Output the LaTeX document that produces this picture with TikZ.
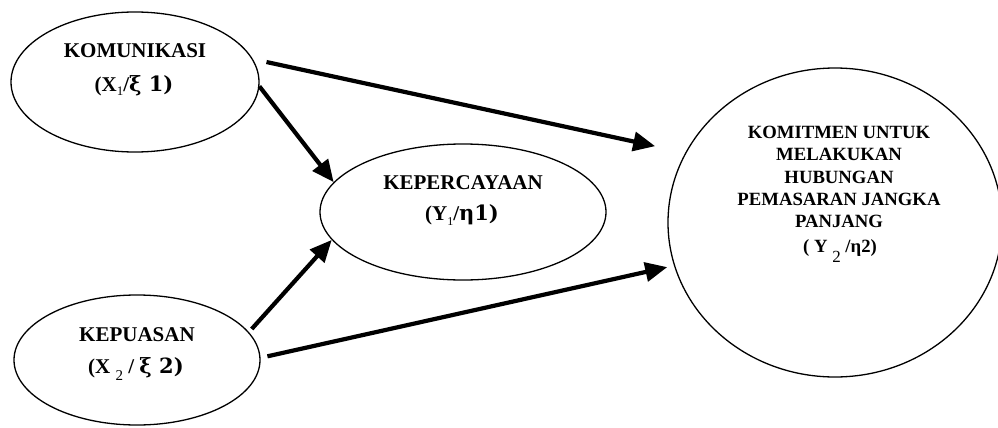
\documentclass[tikz,border=0pt]{standalone}
\usepackage{fontspec}
\setmainfont{Liberation Serif}
\newfontfamily\cam{DejaVu Serif}
\usetikzlibrary{shapes.geometric,arrows.meta}
\newcommand{\lowsub}[3]{\raisebox{-#1pt}{\mdseries\fontsize{#2}{#2}\selectfont #3}}
\begin{document}
\begin{tikzpicture}[x=1pt,y=-1pt,
  ell/.style={draw,ellipse,line width=1.3pt,inner sep=0pt},
  lbl/.style={anchor=base,inner sep=0pt,font=\bfseries\fontsize{21}{21}\selectfont},
  lblbig/.style={anchor=base,inner sep=0pt,font=\bfseries\fontsize{18.7}{18.7}\selectfont},
  arr/.style={line width=4.2pt,-{Triangle[length=22pt,width=19pt]}}]
\useasboundingbox (0,0) rectangle (998,428);
% ellipses
\node[ell,minimum width=248pt,minimum height=140pt] (A) at (135,82) {};
\node[ell,minimum width=246pt,minimum height=130pt] (B) at (137,360) {};
\node[ell,minimum width=286pt,minimum height=136pt] (C) at (463,212) {};
\node[ell,minimum width=334pt,minimum height=309pt] (D) at (835,222.5) {};
% texts
\node[lbl] (tA1) at (135,57) {KOMUNIKASI};
\node[lbl] (tA2) at (134,91) {(X\lowsub{4}{13}{1}/{\cam ξ 1)}};
\node[lbl] (tB1) at (137,341) {KEPUASAN};
\node[lbl] (tB2) at (136,373) {(X \lowsub{7}{15}{2} / {\cam ξ 2)}};
\node[lbl] (tC1) at (463,189) {KEPERCAYAAN};
\node[lbl] (tC2) at (462,220) {(Y\lowsub{5}{12}{1}/{\cam η1)}};
\node[lblbig] (tD1) at (839,138) {KOMITMEN UNTUK};
\node[lblbig] (tD2) at (839,160) {MELAKUKAN};
\node[lblbig] (tD3) at (839,183) {HUBUNGAN};
\node[lblbig] (tD4) at (839,205) {PEMASARAN JANGKA};
\node[lblbig] (tD5) at (839,227) {PANJANG};
\node[lblbig] (tD6) at (840,252) {( Y \lowsub{10}{17}{2} /η2)};
% arrows
\draw[arr,shorten <=13.9pt,shorten >=30.8pt] (A.11.7) -- (D.155.7);
\draw[arr] (A.-2.8) -- (C.167.1);
\draw[arr,shorten <=4.2pt] (B.14.7) -- (C.192.15);
\draw[arr,shorten <=7pt,shorten >=6.9pt] (B.1) -- (D.195);
\end{tikzpicture}
\end{document}
